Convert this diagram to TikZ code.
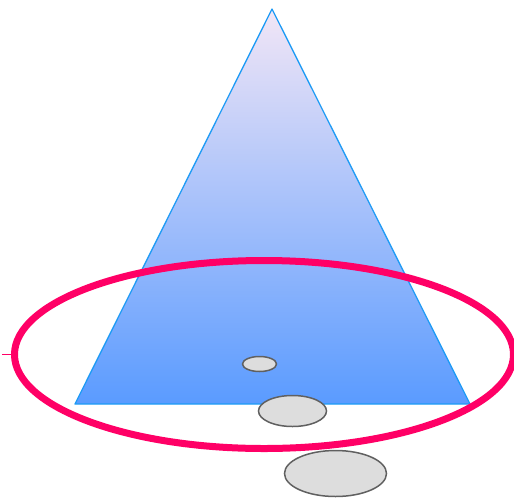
\documentclass[tikz,border=0pt]{standalone}
\usepackage{xcolor}
\usepackage{tikz}
\usetikzlibrary{shapes.geometric}

\definecolor{conetop}{HTML}{F2E6F6}
\definecolor{conemid}{HTML}{A6CBF4}
\definecolor{conebot}{HTML}{5A9BFF}
\definecolor{coneedge}{HTML}{1E9BF5}
\definecolor{ringred}{HTML}{FF0066}
\definecolor{pebfill}{HTML}{DDDDDD}
\definecolor{pebedge}{HTML}{606060}

\begin{document}
\begin{tikzpicture}[
x=1pt,
y=-1pt,
ring/.style={ellipse,draw=ringred,line width=7pt,inner sep=0pt,minimum width=499pt,minimum height=188pt},
pebble/.style={ellipse,draw=pebedge,fill=pebfill,line width=1.5pt,inner sep=0pt},
tick/.style={draw=ringred,line width=1pt}
]
\useasboundingbox (0,0) rectangle (514,499);

% cone
\coordinate (apex) at (272,9);
\coordinate (baseL) at (75,404);
\coordinate (baseR) at (470,404);
\shade[top color=conetop,middle color=conemid,bottom color=conebot] (apex) -- (baseR) -- (baseL) -- cycle;
\draw[coneedge,line width=1.3pt,line join=round] (apex) -- (baseR) -- (baseL) -- cycle;

% ring and its tick
\node[ring] (halo) at (264,354.5) {};
\coordinate (tickend) at (2,354.5);
\draw[tick] (halo.west) -- (tickend);

% pebbles
\node[pebble,minimum width=34pt,minimum height=15pt] (pebA) at (259.5,364) {};
\node[pebble,minimum width=68pt,minimum height=31pt] (pebB) at (292.5,411) {};
\node[pebble,minimum width=102pt,minimum height=46pt] (pebC) at (335.5,473.5) {};
\end{tikzpicture}
\end{document}
